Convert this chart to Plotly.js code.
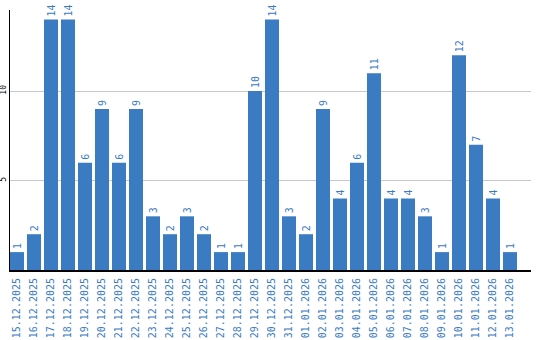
<!DOCTYPE html>
<html>
<head>
<meta charset="utf-8">
<script src="https://cdn.plot.ly/plotly-3.0.1.min.js"></script>
<style>html,body{margin:0;padding:0;background:#fff;}#chart{width:540px;height:340px;}</style>
</head>
<body>
<div id="chart"></div>
<script>
const dates = ["15.12.2025","16.12.2025","17.12.2025","18.12.2025","19.12.2025","20.12.2025","21.12.2025","22.12.2025","23.12.2025","24.12.2025","25.12.2025","26.12.2025","27.12.2025","28.12.2025","29.12.2025","30.12.2025","31.12.2025","01.01.2026","02.01.2026","03.01.2026","04.01.2026","05.01.2026","06.01.2026","07.01.2026","08.01.2026","09.01.2026","10.01.2026","11.01.2026","12.01.2026","13.01.2026"];
const counts = [1,2,14,14,6,9,6,9,3,2,3,2,1,1,10,14,3,2,9,4,6,11,4,4,3,1,12,7,4,1];
const yTicks = [5,10];

const blue = "#3a7bc1";
const trace = {
  type: "bar",
  x: dates,
  y: counts,
  marker: {color: blue},
  text: counts.map(String),
  textposition: "outside",
  textangle: -90,
  cliponaxis: false,
  textfont: {family: "DejaVu Sans Mono", size: 10, color: blue},
  hoverinfo: "none"
};
const layout = {
  width: 540, height: 340,
  margin: {l: 10, r: 9, t: 10, b: 70},
  paper_bgcolor: "#fff", plot_bgcolor: "#fff",
  bargap: 0.176,
  showlegend: false,
  xaxis: {
    type: "category",
    range: [-0.412, 30.235],
    tickangle: -90,
    tickfont: {family: "DejaVu Sans Mono", size: 10, color: blue},
    showline: true, linecolor: "#000", linewidth: 2,
    ticks: "", showgrid: false, zeroline: false,
    ticklabelstandoff: 2
  },
  yaxis: {
    range: [0, 14.53],
    tickvals: yTicks,
    ticktext: yTicks.map(String),
    tickangle: -90,
    tickfont: {family: "DejaVu Sans Mono", size: 8, color: "#000"},
    showline: true, linecolor: "#000", linewidth: 1,
    gridcolor: "#c8c8c8", gridwidth: 1,
    zeroline: false, ticks: "",
    ticklabelstandoff: 0
  }
};
Plotly.newPlot("chart", [trace], layout, {staticPlot: true, displayModeBar: false});
</script>
</body>
</html>
